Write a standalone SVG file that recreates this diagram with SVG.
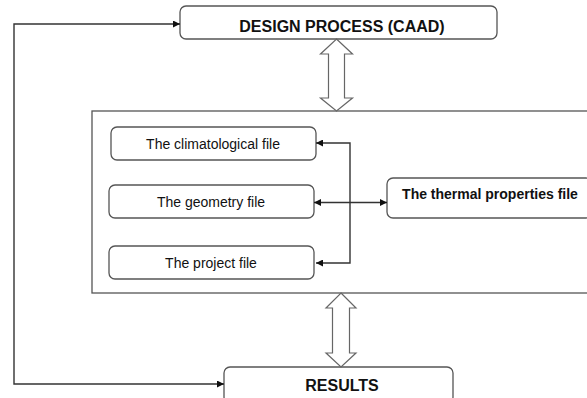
<svg xmlns="http://www.w3.org/2000/svg" width="587" height="398" viewBox="0 0 587 398">
<style>
.box{fill:#fff;stroke:#555;stroke-width:1.3}
.ln{fill:none;stroke:#333;stroke-width:1.4}
.dbl{fill:#fff;stroke:#666;stroke-width:1.2;stroke-linejoin:miter}
.t{font-family:"Liberation Sans",Arial,sans-serif;fill:#111;text-anchor:middle}
.b{font-weight:bold}
</style>
<defs>
<marker id="ah" viewBox="0 0 10 10" refX="10" refY="5" markerWidth="7" markerHeight="7" markerUnits="userSpaceOnUse" orient="auto-start-reverse">
<path d="M0,0 L10,5 L0,10 z" fill="#111"/>
</marker>
</defs>
<rect width="587" height="398" fill="#fff"/>
<g id="container"><rect class="box" x="92" y="111" width="510" height="182" rx="0"/></g>
<g id="design"><rect class="box" x="180" y="6" width="317" height="33" rx="6"/><text class="t b" x="342" y="32" font-size="16">DESIGN PROCESS (CAAD)</text></g>
<g id="climatological"><rect class="box" x="111" y="127" width="205" height="33" rx="6"/><text class="t" x="213" y="148.5" font-size="14">The climatological file</text></g>
<g id="geometry"><rect class="box" x="109" y="185" width="205" height="33" rx="6"/><text class="t" x="211" y="207" font-size="14">The geometry file</text></g>
<g id="project"><rect class="box" x="109" y="246" width="205" height="33" rx="6"/><text class="t" x="211" y="267.5" font-size="14">The project file</text></g>
<g id="thermal"><rect class="box" x="387" y="178" width="205" height="40" rx="6"/><text class="t b" x="490" y="199" font-size="14">The thermal properties file</text></g>
<g id="results"><rect class="box" x="224" y="367" width="229" height="36" rx="6"/><text class="t b" x="342" y="391" font-size="16">RESULTS</text></g>
<g id="connectors">
<path class="dbl" d="M336.5,39 L352.5,54 L344.5,54 L344.5,98 L352.5,98 L336.5,111 L320.5,98 L328.5,98 L328.5,54 L320.5,54 Z"/>
<path class="dbl" d="M341,293 L356,308 L349.5,308 L349.5,353 L356,353 L341,367 L326,353 L332.5,353 L332.5,308 L326,308 Z"/>
<path class="ln" d="M316,143 L350,143 L350,263 L316,263" marker-start="url(#ah)" marker-end="url(#ah)"/>
<path class="ln" d="M314,202.5 L387,202.5" marker-start="url(#ah)" marker-end="url(#ah)"/>
<path class="ln" d="M180,24 L14,24 L14,384 L224,384" marker-start="url(#ah)" marker-end="url(#ah)"/>
</g>
</svg>
